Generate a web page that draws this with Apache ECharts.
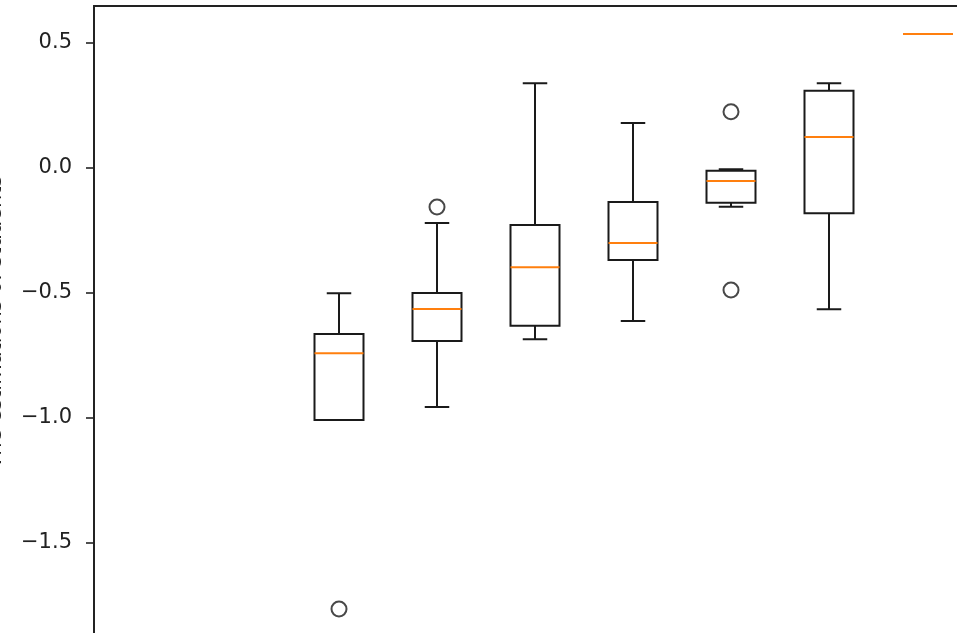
<!DOCTYPE html>
<html>
<head>
<meta charset="utf-8">
<script src="https://cdn.jsdelivr.net/npm/echarts@6/dist/echarts.min.js"></script>
<style>
html,body{margin:0;padding:0;background:#fff;}
#chart{width:957px;height:633px;}
</style>
</head>
<body>
<div id="chart"></div>
<script>
// Categories along the x axis (box positions 1..10; boxes drawn at 3..8)
const categories = ['1','2','3','4','5','6','7','8','9','10'];
const boxPositions = ['3','4','5','6','7','8'];
const whiskerLow  = [-1.008, -0.956, -0.685, -0.612, -0.155, -0.565];
const q1          = [-1.008, -0.692, -0.631, -0.368, -0.139, -0.181];
const median      = [-0.741, -0.564, -0.397, -0.300, -0.052,  0.124];
const q3          = [-0.664, -0.500, -0.228, -0.136, -0.011,  0.309];
const whiskerHigh = [-0.501, -0.220,  0.339,  0.180, -0.005,  0.339];
const outlierPos  = ['3', '4', '7', '7'];
const outlierVal  = [-1.764, -0.156, 0.225, -0.488];
const yTicks = [-1.5, -1.0, -0.5, 0.0, 0.5];
const yAxisTitle = 'The estimations of students';
const legendName = 'median';

const boxData = boxPositions.map((p, i) =>
  [p, whiskerLow[i], q1[i], median[i], q3[i], whiskerHigh[i]]);
const outlierData = outlierPos.map((p, i) => [p, outlierVal[i]]);

const chart = echarts.init(document.getElementById('chart'));
const font = 'DejaVu Sans';

function renderBox(params, api) {
  const cat = api.value(0);
  const band = api.size([1, 0])[0];
  const half = band * 0.25;
  const capHalf = band * 0.125;
  const pLow = api.coord([cat, api.value(1)]);
  const pQ1 = api.coord([cat, api.value(2)]);
  const pMed = api.coord([cat, api.value(3)]);
  const pQ3 = api.coord([cat, api.value(4)]);
  const pHigh = api.coord([cat, api.value(5)]);
  const x = pMed[0];
  const black = {stroke: '#1a1a1a', lineWidth: 2, fill: null};
  return {
    type: 'group',
    children: [
      {type: 'line', shape: {x1: x, y1: pQ3[1], x2: x, y2: pHigh[1]}, style: black},
      {type: 'line', shape: {x1: x, y1: pQ1[1], x2: x, y2: pLow[1]}, style: black},
      {type: 'line', shape: {x1: x - capHalf, y1: pHigh[1], x2: x + capHalf, y2: pHigh[1]}, style: black},
      {type: 'line', shape: {x1: x - capHalf, y1: pLow[1], x2: x + capHalf, y2: pLow[1]}, style: black},
      {type: 'rect', shape: {x: x - half, y: pQ3[1], width: half * 2, height: pQ1[1] - pQ3[1]}, style: black},
      {type: 'line', shape: {x1: x - half, y1: pMed[1], x2: x + half, y2: pMed[1]},
        style: {stroke: '#ff7f0e', lineWidth: 2}}
    ]
  };
}

chart.setOption({
  animation: false,
  backgroundColor: '#fff',
  grid: {
    left: 94, top: 6, width: 980, height: 632,
    outerBoundsMode: 'none',
    containLabel: false,
    show: true, borderColor: '#222', borderWidth: 1.8, backgroundColor: 'transparent'
  },
  legend: {
    left: 898, top: 20,
    itemWidth: 50, itemHeight: 2, itemGap: 10,
    data: [{name: legendName, icon: 'rect'}],
    textStyle: {fontFamily: font, fontSize: 18, color: '#000'}
  },
  xAxis: {
    type: 'category',
    data: categories,
    boundaryGap: true,
    axisLine: {show: false},
    axisTick: {show: false},
    axisLabel: {show: false},
    splitLine: {show: false}
  },
  yAxis: {
    type: 'value',
    min: -1.88, max: 0.648,
    name: yAxisTitle,
    nameLocation: 'middle',
    nameRotate: 90,
    nameGap: 88,
    nameTextStyle: {fontFamily: font, fontSize: 21, color: '#222'},
    axisLine: {show: true, lineStyle: {color: '#222', width: 1.8}},
    axisTick: {show: true, inside: false, length: 8, lineStyle: {color: '#222', width: 1.6}, customValues: yTicks},
    axisLabel: {
      fontFamily: font, fontSize: 21, color: '#222', margin: 22,
      customValues: yTicks,
      formatter: v => (v < 0 ? '\u2212' : '') + Math.abs(v).toFixed(1)
    },
    splitLine: {show: false}
  },
  series: [
    {
      type: 'custom',
      renderItem: renderBox,
      data: boxData,
      encode: {x: 0, y: [1, 2, 3, 4, 5]},
      clip: false,
      z: 3
    },
    {
      type: 'scatter',
      data: outlierData,
      symbol: 'circle',
      symbolSize: 15,
      itemStyle: {color: 'rgba(0,0,0,0)', borderColor: '#1a1a1a', borderWidth: 2},
      z: 4
    },
    {
      name: legendName,
      type: 'line',
      data: [],
      color: '#ff7f0e',
      showSymbol: false
    }
  ]
});
</script>
</body>
</html>
